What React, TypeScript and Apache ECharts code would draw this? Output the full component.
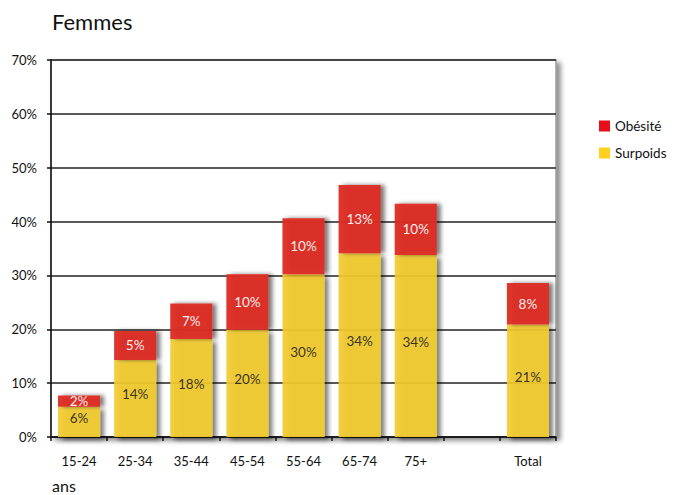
import React, { useEffect, useRef } from "react";
import * as echarts from "echarts";

const categories = ["15-24", "25-34", "35-44", "45-54", "55-64", "65-74", "75+", "", "Total"];
const surpoids = [5.6, 14.3, 18.2, 19.9, 30.2, 34.1, 33.8, null, 20.9];
const obesite = [2.1, 5.4, 6.6, 10.3, 10.4, 12.7, 9.5, null, 7.7];
const yTicks = [0, 10, 20, 30, 40, 50, 60, 70];

const FONT = "Lato, 'Open Sans', sans-serif";

export default function App() {
  const ref = useRef<HTMLDivElement>(null);
  useEffect(() => {
    if (!ref.current) return;
    const chart = echarts.init(ref.current, undefined, { renderer: "svg" });
    chart.setOption({
      animation: false,
      backgroundColor: "#ffffff",
      textStyle: { fontFamily: FONT },
      title: {
        text: "Femmes",
        left: 47,
        top: 5,
        textStyle: { fontFamily: FONT, fontSize: 22, fontWeight: "normal", color: "#111" },
      },
      graphic: [
        {
          type: "text",
          left: 52,
          top: 477,
          style: { text: "ans", fontFamily: FONT, fontSize: 16, fill: "#111" },
        },
      ],
      legend: {
        orient: "vertical",
        left: 594,
        top: 114,
        itemWidth: 11,
        itemHeight: 11,
        itemGap: 13,
        textStyle: { fontFamily: FONT, fontSize: 13.5, color: "#111" },
        data: [
          { name: "Obésité", icon: "rect", itemStyle: { color: "#e6000e" } },
          { name: "Surpoids", icon: "rect", itemStyle: { color: "#ffcb05" } },
        ],
      },
      grid: {
        left: 51,
        right: 121,
        top: 60,
        bottom: 58,
        show: true,
        backgroundColor: "#ffffff",
        borderColor: "#9a9a9a",
        borderWidth: 1.5,
        shadowColor: "rgba(0,0,0,0.45)",
        shadowBlur: 5,
        shadowOffsetX: 4,
        shadowOffsetY: 3,
      },
      xAxis: {
        type: "category",
        data: categories,
        axisLine: { show: true, lineStyle: { color: "#111", width: 1.5 } },
        axisTick: { show: true, alignWithLabel: false, length: 4, lineStyle: { color: "#111", width: 1.5 } },
        axisLabel: { color: "#111", fontSize: 13, fontFamily: FONT, margin: 17 },
      },
      yAxis: {
        type: "value",
        min: 0,
        max: 70,
        interval: 10,
        axisLine: { show: true, lineStyle: { color: "#111", width: 1.5 } },
        axisTick: { show: true, length: 4, lineStyle: { color: "#111", width: 1.5 } },
        axisLabel: {
          color: "#111",
          fontSize: 13,
          fontFamily: FONT,
          margin: 14,
          formatter: (v: number) => (yTicks.includes(v) ? v + "%" : ""),
        },
        splitLine: { show: true, lineStyle: { color: "#222", width: 1.5 } },
      },
      series: [
        {
          name: "Surpoids",
          type: "bar",
          stack: "t",
          barWidth: "75%",
          data: surpoids,
          itemStyle: {
            color: "#f3cb2e",
            opacity: 0.9,
            shadowColor: "rgba(0,0,0,0.55)",
            shadowBlur: 4,
            shadowOffsetX: 4,
            shadowOffsetY: 3,
          },
          label: {
            show: true,
            position: "inside",
            offset: [0, -4],
            color: "#222",
            fontSize: 13.5,
            fontFamily: FONT,
            formatter: (p: any) => (p.value == null ? "" : Math.round(p.value) + "%"),
          },
        },
        {
          name: "Obésité",
          type: "bar",
          stack: "t",
          barWidth: "75%",
          data: obesite,
          itemStyle: {
            color: "#dc2b22",
            opacity: 0.95,
            shadowColor: "rgba(0,0,0,0.55)",
            shadowBlur: 4,
            shadowOffsetX: 4,
            shadowOffsetY: 0,
          },
          label: {
            show: true,
            position: "inside",
            color: "#ffffff",
            fontSize: 13.5,
            fontFamily: FONT,
            formatter: (p: any) => (p.value == null ? "" : Math.round(p.value) + "%"),
          },
        },
      ],
    });
    return () => chart.dispose();
  }, []);
  return <div ref={ref} style={{ width: 677, height: 495, position: "absolute", left: 0, top: 0 }} />;
}
